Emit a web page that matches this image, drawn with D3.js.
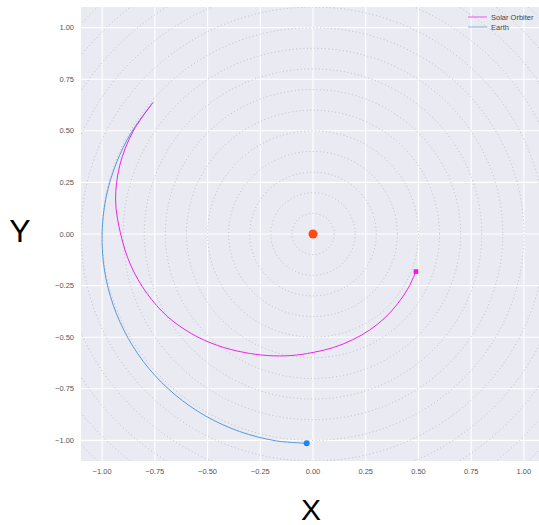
<!DOCTYPE html>
<html>
<head>
<meta charset="utf-8">
<script src="https://cdn.jsdelivr.net/npm/d3@7"></script>
<style>
  html, body { margin: 0; padding: 0; background: #ffffff; }
  svg { display: block; }
  text { font-family: "Liberation Sans", Arial, sans-serif; }
</style>
</head>
<body>
<svg id="chart" width="539" height="525"></svg>
<script>
// Heliocentric positions (AU) in the ecliptic plane
const solarOrbiterX = [-0.759, -0.855, -0.916, -0.936, -0.912, -0.864, -0.788, -0.691, -0.576, -0.453, -0.331, -0.214, -0.104, 0.000, 0.097, 0.187, 0.269, 0.341, 0.402, 0.452, 0.488];
const solarOrbiterY = [0.637, 0.494, 0.333, 0.165, 0.000, -0.152, -0.287, -0.399, -0.483, -0.540, -0.573, -0.589, -0.589, -0.574, -0.550, -0.513, -0.465, -0.406, -0.337, -0.261, -0.182];
const earthX = [-0.759, -0.859, -0.934, -0.982, -1.000, -0.989, -0.947, -0.876, -0.778, -0.654, -0.509, -0.348, -0.177, -0.030];
const earthY = [0.637, 0.496, 0.340, 0.173, 0.000, -0.174, -0.345, -0.506, -0.652, -0.779, -0.882, -0.957, -1.002, -1.014];
const tickValues = [-1.00, -0.75, -0.50, -0.25, 0.00, 0.25, 0.50, 0.75, 1.00];
const ringRadii = [0.1, 0.2, 0.3, 0.4, 0.5, 0.6, 0.7, 0.8, 0.9, 1.0, 1.1, 1.2, 1.3, 1.4, 1.5];
const seriesNames = ["Solar Orbiter", "Earth"];
const seriesColors = ["#ee22ee", "#5599dd"];

const svg = d3.select("#chart");
const x = d3.scaleLinear().domain([-1.1, 1.1]).range([81, 545]);
const y = d3.scaleLinear().domain([-1.1, 1.1]).range([461, 7]);

// plot background
svg.append("rect")
  .attr("x", x(-1.1)).attr("y", y(1.1))
  .attr("width", x(1.1) - x(-1.1)).attr("height", y(-1.1) - y(1.1))
  .attr("fill", "#eaeaf2");

svg.append("defs").append("clipPath").attr("id", "plotclip")
  .append("rect")
  .attr("x", x(-1.1)).attr("y", y(1.1))
  .attr("width", x(1.1) - x(-1.1)).attr("height", y(-1.1) - y(1.1));

const plot = svg.append("g").attr("clip-path", "url(#plotclip)");

// white grid
plot.selectAll(".vgrid").data(tickValues).join("line")
  .attr("x1", d => x(d)).attr("x2", d => x(d))
  .attr("y1", y(1.1)).attr("y2", y(-1.1))
  .attr("stroke", "#ffffff").attr("stroke-width", 1.1);
plot.selectAll(".hgrid").data(tickValues).join("line")
  .attr("y1", d => y(d)).attr("y2", d => y(d))
  .attr("x1", x(-1.1)).attr("x2", x(1.1))
  .attr("stroke", "#ffffff").attr("stroke-width", 1.1);

// distance rings around the Sun
plot.selectAll(".ring").data(ringRadii).join("ellipse")
  .attr("cx", x(0)).attr("cy", y(0))
  .attr("rx", d => x(d) - x(0)).attr("ry", d => y(0) - y(d))
  .attr("fill", "none")
  .attr("stroke", "#b8b8c0")
  .attr("stroke-width", 0.9)
  .attr("stroke-dasharray", "1,2.6");

const line = d3.line()
  .x(d => x(d[0])).y(d => y(d[1]))
  .curve(d3.curveCatmullRom.alpha(0.5));

const earthPts = earthX.map((v, i) => [v, earthY[i]]);
const soloPts = solarOrbiterX.map((v, i) => [v, solarOrbiterY[i]]);

plot.append("path").datum(earthPts)
  .attr("d", line).attr("fill", "none")
  .attr("stroke", seriesColors[1]).attr("stroke-width", 1);
plot.append("path").datum(soloPts)
  .attr("d", line).attr("fill", "none")
  .attr("stroke", seriesColors[0]).attr("stroke-width", 1);

// current positions
const earthNow = earthPts[earthPts.length - 1];
plot.append("circle")
  .attr("cx", x(earthNow[0])).attr("cy", y(earthNow[1])).attr("r", 3)
  .attr("fill", "#1e88f0");
const soloNow = soloPts[soloPts.length - 1];
plot.append("rect")
  .attr("x", x(soloNow[0]) - 2.3).attr("y", y(soloNow[1]) - 2.3)
  .attr("width", 4.6).attr("height", 4.6)
  .attr("fill", "#ff10e0");

// Sun
plot.append("circle")
  .attr("cx", x(0)).attr("cy", y(0)).attr("r", 4.5)
  .attr("fill", "#ff4a12");

// tick labels
svg.selectAll(".xt").data(tickValues).join("text")
  .attr("x", d => x(d)).attr("y", 474)
  .attr("text-anchor", "middle")
  .attr("font-size", 7.5).attr("fill", "#555")
  .text(d => d3.format(".2f")(d).replace("-", "\u2212"));
svg.selectAll(".yt").data(tickValues).join("text")
  .attr("x", 74).attr("y", d => y(d) + 2.6)
  .attr("text-anchor", "end")
  .attr("font-size", 7.5).attr("fill", "#555")
  .text(d => d3.format(".2f")(d).replace("-", "\u2212"));

// axis titles
svg.append("text").attr("x", 20).attr("y", 242)
  .attr("text-anchor", "middle").attr("font-size", 32).attr("fill", "#000")
  .text("Y");
svg.append("text").attr("x", 311).attr("y", 520)
  .attr("text-anchor", "middle").attr("font-size", 30).attr("fill", "#000")
  .text("X");

// legend
const legend = svg.append("g");
seriesNames.forEach((name, i) => {
  const ly = 17 + i * 10;
  legend.append("line")
    .attr("x1", 468).attr("x2", 487).attr("y1", ly).attr("y2", ly)
    .attr("stroke", seriesColors[i]).attr("stroke-width", 1).attr("opacity", 0.75);
  legend.append("text")
    .attr("x", 491).attr("y", ly + 2.5)
    .attr("font-size", 7.5).attr("fill", "#444")
    .text(name);
});
</script>
</body>
</html>
